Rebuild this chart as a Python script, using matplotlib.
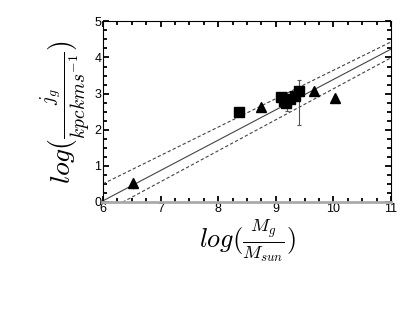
import matplotlib
matplotlib.use("Agg")
import matplotlib.pyplot as plt
from matplotlib.ticker import MultipleLocator

plt.rcParams['font.family'] = ['Liberation Sans', 'DejaVu Sans']
plt.rcParams['mathtext.fontset'] = 'cm'

# data
sq_x = [8.37, 9.10, 9.18, 9.25, 9.33, 9.40, 9.14]
sq_y = [2.50, 2.90, 2.73, 2.84, 2.94, 3.08, 2.80]
tri_x = [6.52, 8.75, 9.66, 10.03]
tri_y = [0.52, 2.64, 3.08, 2.89]
tri_err = [0.15, 0.0, 0.0, 0.0]
eb_x = [9.40, 9.20]
eb_y = [2.75, 2.80]
eb_lo = [0.63, 0.28]
eb_hi = [0.63, 0.25]
fit_x = [6.0, 11.0]
fit_y = [0.03, 4.23]
upper_y = [0.50, 4.43]
lower_y = [-0.30, 3.99]

fig = plt.figure(figsize=(4.15, 3.19), dpi=100)
ax = fig.add_axes([0.248, 0.367, 0.694, 0.566])

ax.plot(fit_x, fit_y, color='#444444', lw=0.8)
ax.plot(fit_x, upper_y, color='#444444', lw=0.8, ls=(0, (3, 2)))
ax.plot(fit_x, lower_y, color='#444444', lw=0.8, ls=(0, (3, 2)))

ax.errorbar(eb_x, eb_y, yerr=[eb_lo, eb_hi], fmt='none', ecolor='#555555',
            elinewidth=0.8, capsize=1.5, capthick=0.8)
ax.errorbar(tri_x, tri_y, yerr=tri_err, fmt='none', ecolor='#555555',
            elinewidth=0.8, capsize=0)
ax.plot(sq_x, sq_y, 's', color='black', ms=7, mec='black')
ax.plot(tri_x, tri_y, '^', color='black', ms=6.5, mec='black')

ax.set_xlim(6, 11)
ax.set_ylim(0, 5)
ax.xaxis.set_major_locator(MultipleLocator(1))
ax.xaxis.set_minor_locator(MultipleLocator(0.25))
ax.yaxis.set_major_locator(MultipleLocator(1))
ax.yaxis.set_minor_locator(MultipleLocator(0.25))
ax.tick_params(which='both', direction='in', top=True, right=True,
               labelsize=9, pad=1, color='black')
ax.tick_params(which='major', length=4.5, width=1.3)
ax.tick_params(which='minor', length=3, width=1.3)
for s in ['left', 'top', 'right']:
    ax.spines[s].set_linewidth(0.8)
ax.spines['bottom'].set_color('#aaaaaa')
ax.spines['bottom'].set_linewidth(2)

ax.set_xlabel(r'$log(\frac{M_g}{M_{sun}})$', fontsize=19, labelpad=1)
ax.set_ylabel(r'$log(\frac{j_g}{kpckms^{-1}})$', fontsize=20, labelpad=1)

fig.savefig('out.png', dpi=100)
